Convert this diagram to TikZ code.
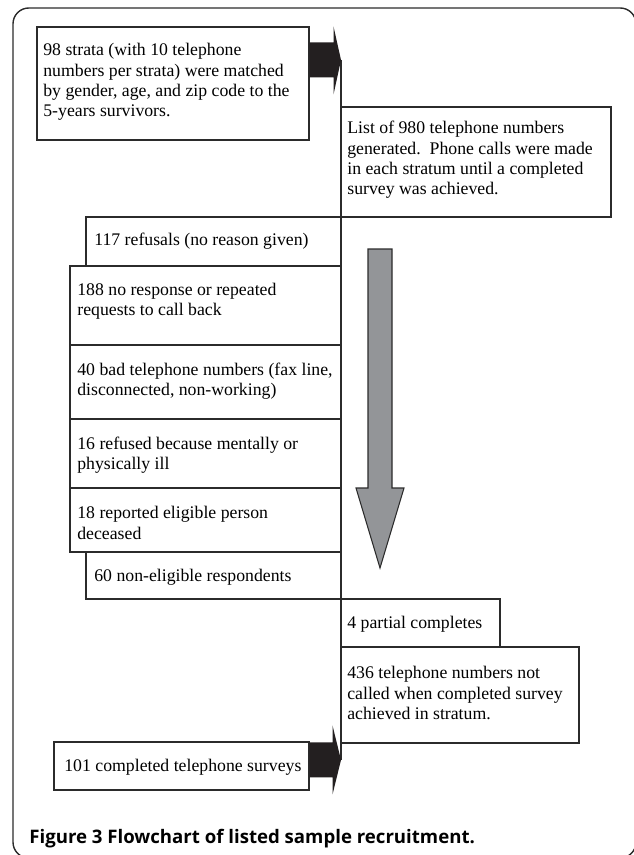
\documentclass[tikz,border=0pt]{standalone}
\usepackage{fontspec}
\setmainfont{Liberation Serif}
\newfontfamily\capfont{Open Sans}
\usetikzlibrary{fit,calc}
\definecolor{linecol}{HTML}{2B2B2B}
\definecolor{blackarrow}{HTML}{231F20}
\definecolor{grayarrow}{HTML}{939598}
\begin{document}
\begin{tikzpicture}[x=0.02cm,y=-0.02cm,
  box/.style={draw=linecol, line width=0.6pt, inner sep=0pt},
  txt/.style={anchor=west, align=left, inner sep=0pt, font=\fontsize{10.1}{11.6}\selectfont},
  blk/.style={fill=blackarrow, draw=none},
  garrow/.style={fill=grayarrow, draw=linecol, line width=0.6pt, line join=miter},
  frame/.style={draw=linecol, line width=0.8pt, rounded corners=9pt}]
\useasboundingbox (0,0) rectangle (634,855);
\draw[frame] (13,8) rectangle (636,858);

% boxes
\node[box, fit={(37,27)(309,140)}] (b1) {};
\node[box, fit={(341,107)(611,217)}] (b2) {};
\node[box, fit={(86,217)(341,266)}] (b3) {};
\node[box, fit={(70,266)(341,345)}] (b4) {};
\node[box, fit={(70,345)(341,419)}] (b5) {};
\node[box, fit={(70,419)(341,488)}] (b6) {};
\node[box, fit={(70,488)(341,552)}] (b7) {};
\node[box, fit={(86,552)(341,599)}] (b8) {};
\node[box, fit={(341,599)(500,647)}] (b9) {};
\node[box, fit={(341,647)(579,743)}] (b10) {};
\node[box, fit={(54,742)(309,790)}] (b11) {};

% texts
\node[txt] (t1) at (43,82) {98 strata (with 10 telephone\\numbers per strata) were matched\\by gender, age, and zip code to the\\5-years survivors.};
\node[txt] (t2) at (347,160) {List of 980 telephone numbers\\generated.\ \ Phone calls were made\\in each stratum until a completed\\survey was achieved.};
\node[txt] (t3) at (94,241) {117 refusals (no reason given)};
\node[txt] (t4) at (77,301) {188 no response or repeated\\requests to call back};
\node[txt] (t5) at (77,381) {40 bad telephone numbers (fax line,\\disconnected, non-working)};
\node[txt] (t6) at (77,455) {16 refused because mentally or\\physically ill};
\node[txt] (t7) at (77,523) {18 reported eligible person\\deceased};
\node[txt] (t8) at (94,577) {60 non-eligible respondents};
\node[txt] (t9) at (347,624) {4 partial completes};
\node[txt] (t10) at (347,693) {436 telephone numbers not\\called when completed survey\\achieved in stratum.};
\node[txt] (t11) at (64,767) {101 completed telephone surveys};

% arrow tips and vertical line
\coordinate (tip1) at (341,60);
\coordinate (tip2) at (341,760);
\draw[linecol, line width=0.6pt] (tip1) -- (tip2);

% black block arrows
\fill[blk] ($(b1.north east)+(0,16)$) -- ($(b1.north east)+(24,16)$) -- ($(b1.north east)+(24,0)$)
  -- (tip1) -- ($(b1.north east)+(24,68)$) -- ($(b1.north east)+(24,51)$) -- ($(b1.north east)+(0,51)$) -- cycle;
\fill[blk] ($(b11.north east)+(0,1)$) -- ($(b11.north east)+(23,1)$) -- ($(b11.north east)+(23,-16)$)
  -- (tip2) -- ($(b11.north east)+(23,53)$) -- ($(b11.north east)+(23,36)$) -- ($(b11.north east)+(0,36)$) -- cycle;

% gray down arrow
\coordinate (gtop) at (380,249);
\coordinate (gtip) at (380,568);
\draw[garrow] ($(gtop)+(-12,0)$) -- ($(gtop)+(12,0)$) -- (392,488) -- (404,488) -- (gtip) -- (356,488) -- (368,488) -- cycle;

% caption
\node[anchor=base west, inner sep=0pt, font=\capfont\bfseries\fontsize{10.6}{12}\selectfont] (cap) at (29,843) {Figure 3 Flowchart of listed sample recruitment.};
\end{tikzpicture}
\end{document}
